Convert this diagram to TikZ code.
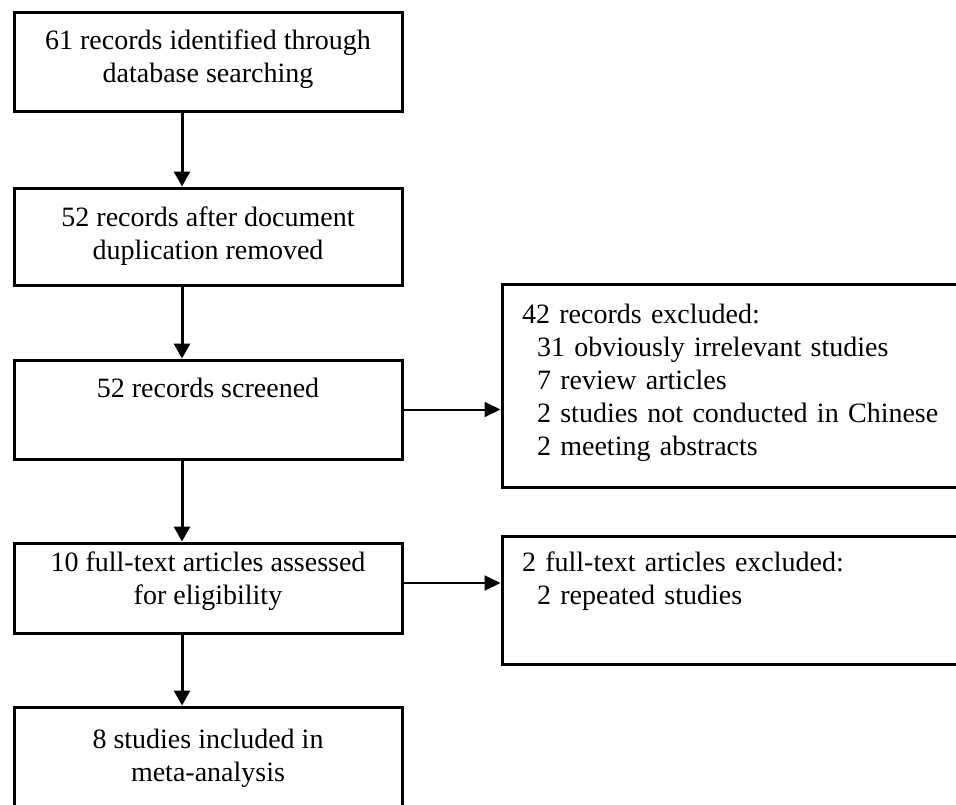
\documentclass[tikz,border=0pt]{standalone}
\usepackage{fontspec}
\setmainfont{Liberation Serif}
\usetikzlibrary{arrows.meta,positioning}
\tikzset{
  stagebox/.style={draw,line width=3pt,minimum width=388pt,align=center,inner sep=0pt},
  exbox/.style={draw,line width=3pt,text width=433pt,inner xsep=20pt,inner ysep=0pt,align=left},
  arr/.style={-{Triangle[length=15pt,width=16pt]},line width=3pt},
  sidearr/.style={-{Triangle[length=16pt,width=15pt]},line width=2pt}
}
\newcommand{\lift}[1]{\rule[-#1]{0pt}{#1}}
\begin{document}
\begin{tikzpicture}[x=1pt,y=-1pt,font=\fontsize{28}{33}\selectfont]
\clip (0,0) rectangle (956,804);
% main column
\node[stagebox,minimum height=99pt] (ident) at (208,61.5) {61 records identified through\\database searching\lift{10pt}};
\node[stagebox,minimum height=97pt] (dedup) at (208,236.5) {52 records after document\\duplication removed};
\node[stagebox,minimum height=99pt] (screen) at (208,409.5) {52 records screened\\\strut};
\node[stagebox,minimum height=90pt] (full) at (208,588) {10 full-text articles assessed\\for eligibility\lift{20pt}};
\node[stagebox,minimum height=103pt] (incl) at (208,758.5) {8 studies included in\\meta-analysis};
% exclusions
\node[exbox,minimum height=203pt] (ex1) at (738.5,385.5) {42 records excluded:\\
  \hspace*{15pt}31 obviously irrelevant studies\\
  \hspace*{15pt}7 review articles\\
  \hspace*{15pt}2 studies not conducted in Chinese\\
  \hspace*{15pt}2 meeting abstracts\lift{12pt}};
\node[exbox,minimum height=128pt] (ex2) at (738.5,600) {2 full-text articles excluded:\\
  \hspace*{15pt}2 repeated studies\\\strut};
% arrows
\coordinate (axis) at (182,0);
\draw[arr] (ident.south -| axis) -- (dedup.north -| axis);
\draw[arr] (dedup.south -| axis) -- (screen.north -| axis);
\draw[arr] (screen.south -| axis) -- (full.north -| axis);
\draw[arr] (full.south -| axis) -- (incl.north -| axis);
\draw[sidearr] (screen.east) -- (screen.east -| ex1.west);
\draw[sidearr] ([yshift=5pt]full.east) -- ([yshift=5pt]full.east -| ex2.west);
\end{tikzpicture}
\end{document}
